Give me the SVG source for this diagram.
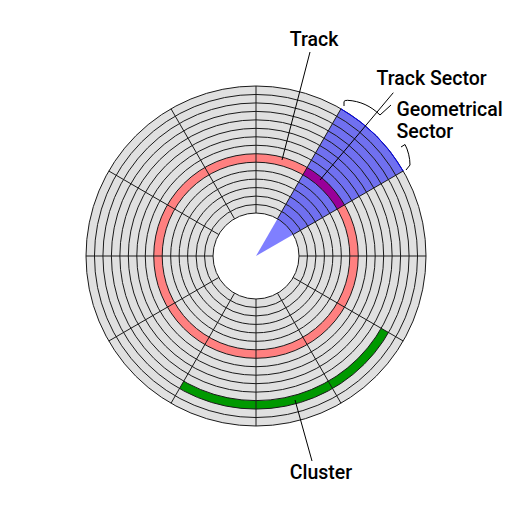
<svg xmlns="http://www.w3.org/2000/svg" width="512" height="512" viewBox="0 0 512 512">
  <style>
    .grid { fill: none; stroke: #1a1a1a; stroke-width: 1; }
    .lbl { font-family: Roboto, "Liberation Sans", sans-serif; font-weight: 500; font-size: 19.5px; fill: #000; }
    .lead { fill: none; stroke: #000; stroke-width: 1; }
  </style>
  <rect width="512" height="512" fill="#fff"/>
  <g id="disk">
    <circle cx="256" cy="256" r="106.5" fill="none" stroke="#e0e0e0" stroke-width="127"/>
    <circle id="track" cx="256" cy="256" r="98.03" fill="none" stroke="#ff8080" stroke-width="8.47"/>
    <path id="cluster" d="M181.58,384.89 A148.83,148.83 0 0 0 384.89,330.42" fill="none" stroke="#009900" stroke-width="8.47"/>
    <path id="geometrical-sector" d="M256,256 L403.22,171 A170,170 0 0 0 341,108.78 Z" fill="#0000ff" fill-opacity="0.5"/>
    <path id="track-sector" d="M344.57,204.87 A102.27,102.27 0 0 0 307.13,167.43 L302.9,174.77 A93.8,93.8 0 0 1 337.23,209.1 Z" fill="#990099"/>
    <g class="grid">
      <circle cx="256" cy="256" r="43"/>
      <circle cx="256" cy="256" r="51.47"/>
      <circle cx="256" cy="256" r="59.93"/>
      <circle cx="256" cy="256" r="68.4"/>
      <circle cx="256" cy="256" r="76.87"/>
      <circle cx="256" cy="256" r="85.33"/>
      <circle cx="256" cy="256" r="93.8"/>
      <circle cx="256" cy="256" r="102.27"/>
      <circle cx="256" cy="256" r="110.73"/>
      <circle cx="256" cy="256" r="119.2"/>
      <circle cx="256" cy="256" r="127.67"/>
      <circle cx="256" cy="256" r="136.13"/>
      <circle cx="256" cy="256" r="144.6"/>
      <circle cx="256" cy="256" r="153.07"/>
      <circle cx="256" cy="256" r="161.53"/>
      <circle cx="256" cy="256" r="170"/>
      <path d="M299,256 L426,256 M293.24,234.5 L403.22,171 M277.5,218.76 L341,108.78 M256,213 L256,86 M234.5,218.76 L171,108.78 M218.76,234.5 L108.78,171 M213,256 L86,256 M218.76,277.5 L108.78,341 M234.5,293.24 L171,403.22 M256,299 L256,426 M277.5,293.24 L341,403.22 M293.24,277.5 L403.22,341"/>
    </g>
    <path d="M403.22,171 A170,170 0 0 0 341,108.78" fill="none" stroke="#0000ff" stroke-width="1"/>
  </g>
  <g id="connectors">
    <path class="lead" d="M310,52 L282,160"/>
    <path class="lead" d="M393.3,92.7 L320,180"/>
    <path class="lead" d="M295,400 L312,461"/>
    <path class="lead" d="M344,106 L344,101.5 Q344.5,100.3 347.5,100.3 C360,101 371,106 380,115 L391,105"/>
    <path class="lead" d="M401,147 L405,144.5 C408,150 410,158 410,165 L406,170"/>
  </g>
  <g id="label-track"><text class="lbl" x="314" y="46" text-anchor="middle">Track</text></g>
  <g id="label-track-sector"><text class="lbl" x="376.5" y="85">Track Sector</text></g>
  <g id="label-geometrical-sector"><text class="lbl" x="396.5" y="116">Geometrical</text><text class="lbl" x="396.5" y="138">Sector</text></g>
  <g id="label-cluster"><text class="lbl" x="321" y="479" text-anchor="middle">Cluster</text></g>
</svg>
